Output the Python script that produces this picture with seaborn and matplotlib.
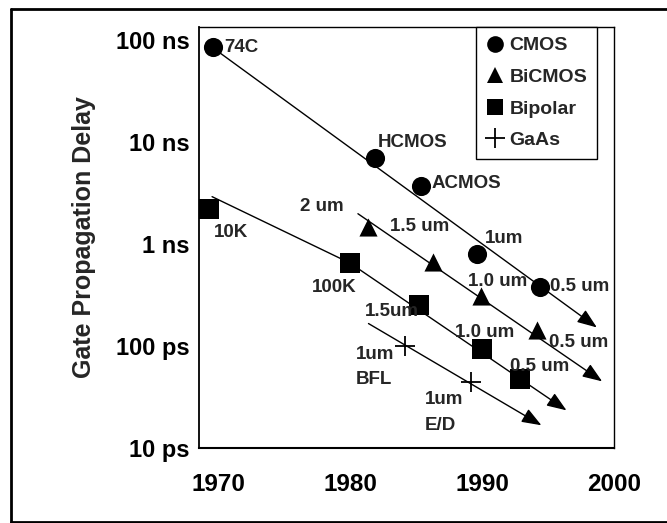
import matplotlib
matplotlib.use("Agg")
import matplotlib.pyplot as plt
from matplotlib.lines import Line2D
from matplotlib.ticker import FixedLocator, NullLocator
import seaborn as sns
import pandas as pd

# ---------------- data (delays in ns) ----------------
cmos_years = [1969.6, 1981.9, 1985.4, 1989.6, 1994.4]
cmos_ns = [85, 6.9, 3.7, 0.79, 0.38]
cmos_labels = ["74C", "HCMOS", "ACMOS", "1um", "0.5 um"]

bicmos_years = [1981.4, 1986.3, 1989.9, 1994.2]
bicmos_ns = [1.48, 0.67, 0.31, 0.145]
bicmos_labels = ["2 um", "1.5 um", "1.0 um", "0.5 um"]

bipolar_years = [1969.3, 1980.0, 1985.2, 1990.0, 1992.9]
bipolar_ns = [2.2, 0.65, 0.25, 0.093, 0.047]
bipolar_labels = ["10K", "100K", "1.5um", "1.0 um", "0.5 um"]

gaas_years = [1984.2, 1989.2]
gaas_ns = [0.10, 0.044]
gaas_labels = ["1um\nBFL", "1um\nE/D"]

# trend lines (start -> arrow tip)
cmos_trend_years = [1970.15, 1998.7]
cmos_trend_ns = [74.6, 0.152]
bicmos_trend_years = [1980.6, 1999.1]
bicmos_trend_ns = [1.98, 0.045]
bipolar_trend_years = [1969.55, 1980.0, 1996.4]
bipolar_trend_ns = [2.91, 0.65, 0.0234]
gaas_trend_years = [1981.4, 1994.5]
gaas_trend_ns = [0.166, 0.0167]

ytick_vals = [100, 10, 1, 0.1, 0.01]
ytick_labels = ["100 ns", "10 ns", "1 ns", "100 ps", "10 ps"]
xtick_vals = [1970, 1980, 1990, 2000]

techs = ["CMOS", "BiCMOS", "Bipolar", "GaAs"]
markers = {"CMOS": "o", "BiCMOS": "^", "Bipolar": "s", "GaAs": "+"}

# ---------------- figure ----------------
sns.set_theme(style="white")
plt.rcParams["font.family"] = ["Liberation Sans", "DejaVu Sans"]
plt.rcParams["font.weight"] = "bold"

fig = plt.figure(figsize=(6.67, 5.23), dpi=100)
ax = fig.add_axes([199 / 667, 75 / 523, 415 / 667, 421 / 523])

rows = []
for t, ys, vs in [("CMOS", cmos_years, cmos_ns), ("BiCMOS", bicmos_years, bicmos_ns),
                  ("Bipolar", bipolar_years, bipolar_ns), ("GaAs", gaas_years, gaas_ns)]:
    for y, v in zip(ys, vs):
        rows.append({"year": y, "delay": v, "tech": t})
df = pd.DataFrame(rows)

for t in techs:
    sub = df[df.tech == t]
    if t == "GaAs":
        sns.scatterplot(data=sub, x="year", y="delay", marker="+", s=200,
                        color="black", linewidth=1.3, ax=ax, legend=False, zorder=3)
    else:
        size = 190 if t != "BiCMOS" else 170
        sns.scatterplot(data=sub, x="year", y="delay", marker=markers[t], s=size,
                        color="black", edgecolor="black", linewidth=0, ax=ax,
                        legend=False, zorder=3)

arrow_kw = dict(arrowstyle="-|>,head_length=1.0,head_width=0.38", color="black",
                lw=1.0, shrinkA=0, shrinkB=0, mutation_scale=12)

def trend(xs, vs):
    if len(xs) > 2:
        sns.lineplot(x=xs[:-1], y=vs[:-1], color="black", lw=1.0, ax=ax, zorder=2)
    ax.annotate("", xy=(xs[-1], vs[-1]), xytext=(xs[-2], vs[-2]),
                arrowprops=arrow_kw, zorder=2)

trend(cmos_trend_years, cmos_trend_ns)
trend(bicmos_trend_years, bicmos_trend_ns)
trend(bipolar_trend_years, bipolar_trend_ns)
trend(gaas_trend_years, gaas_trend_ns)

ax.set_yscale("log")
ax.set_xlim(1968.56, 2000)
ax.set_ylim(0.01, 134)

# point labels: (dx, dy) pixel offsets, alignment
label_fs = 13.5
def label(xs, vs, texts, offsets):
    for x, v, txt, (dx, dy, h) in zip(xs, vs, texts, offsets):
        ax.annotate(txt, xy=(x, v), xytext=(dx * 0.72, dy * 0.72),
                    textcoords="offset points", ha=h, va="center",
                    fontsize=label_fs, fontweight="bold", linespacing=1.65,
                    zorder=4)

label(cmos_years, cmos_ns, cmos_labels,
      [(12, 0, "left"), (3, 16, "left"), (10, 3, "left"), (8, 16, "left"), (10, 0, "left")])
label(bicmos_years, bicmos_ns, bicmos_labels,
      [(-25, 20, "right"), (-43, 35, "left"), (-13, 14, "left"), (12, -13, "left")])
label(bipolar_years, bipolar_ns, bipolar_labels,
      [(5, -23, "left"), (-38, -24, "left"), (-54, -6, "left"), (-27, 17, "left"), (-10, 13, "left")])
label(gaas_years, gaas_ns, gaas_labels,
      [(-50, -21, "left"), (-47, -30, "left")])

# axes styling
ax.set_xlabel("")
ax.set_ylabel("Gate Propagation Delay", fontsize=18, fontweight="bold", labelpad=14)
ax.yaxis.set_major_locator(FixedLocator(ytick_vals))
ax.yaxis.set_minor_locator(NullLocator())
ax.set_yticklabels(ytick_labels)
ax.xaxis.set_major_locator(FixedLocator(xtick_vals))
ax.set_xticklabels([str(v) for v in xtick_vals])
ax.tick_params(axis="both", direction="inout", length=12, width=1.0, color="black",
               labelcolor="black")
ax.tick_params(axis="y", pad=1, labelsize=17)
ax.tick_params(axis="x", pad=12, labelsize=17.5)
for lab in ax.get_xticklabels() + ax.get_yticklabels():
    lab.set_fontweight("bold")
for sp in ax.spines.values():
    sp.set_visible(True)
    sp.set_color("black")
    sp.set_linewidth(1.0)
ax.spines["bottom"].set_linewidth(1.5)
ax.spines["left"].set_linewidth(1.3)
ax.grid(False)

# legend
handles = [Line2D([0], [0], marker=markers[t], color="black", ls="none",
                  markersize=12 if t != "GaAs" else 15, markeredgewidth=1.3 if t == "GaAs" else 0)
           for t in techs]
leg = ax.legend(handles, techs, loc="upper right", bbox_to_anchor=(0.959, 1.0),
                borderaxespad=0, frameon=True, fancybox=False, fontsize=14,
                labelspacing=0.72, handletextpad=0.3, handlelength=0.9,
                borderpad=0.55, borderaxespad_=None) if False else ax.legend(
                handles, techs, loc="upper right", bbox_to_anchor=(0.959, 1.0),
                borderaxespad=0, frameon=True, fancybox=False, fontsize=14,
                labelspacing=0.72, handletextpad=0.3, handlelength=0.9,
                borderpad=0.5, framealpha=1)
leg.get_frame().set_edgecolor("black")
leg.get_frame().set_linewidth(1.0)
for t in leg.get_texts():
    t.set_fontweight("bold")

# outer frame
fig.add_artist(Line2D([11 / 667, 1.0], [1 - 9 / 523, 1 - 9 / 523], transform=fig.transFigure,
                      color="black", lw=2))
fig.add_artist(Line2D([11 / 667, 11 / 667], [1 - 9 / 523, 1.5 / 523], transform=fig.transFigure,
                      color="black", lw=2))
fig.add_artist(Line2D([11 / 667, 1.0], [1.5 / 523, 1.5 / 523], transform=fig.transFigure,
                      color="black", lw=2))

fig.savefig("out.png", dpi=100)
